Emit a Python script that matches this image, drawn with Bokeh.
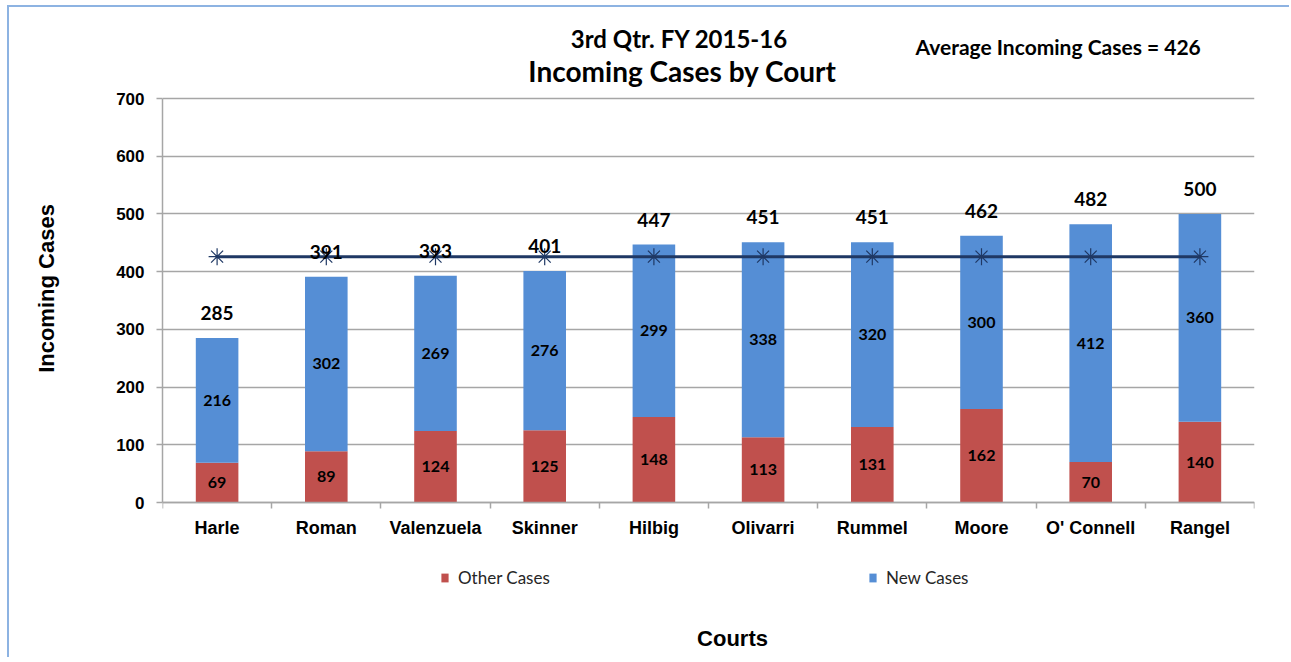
import math
from bokeh.plotting import figure
from bokeh.layouts import row
from bokeh.models import (Range1d, FixedTicker, Legend, LegendItem, LabelSet, Label,
                          ColumnDataSource)
from bokeh.core.properties import value
from bokeh.embed import file_html
from bokeh.resources import INLINE

# ---- data ----
courts = ["Harle", "Roman", "Valenzuela", "Skinner", "Hilbig", "Olivarri",
          "Rummel", "Moore", "O' Connell", "Rangel"]
other_cases = [69, 89, 124, 125, 148, 113, 131, 162, 70, 140]
new_cases = [216, 302, 269, 276, 299, 338, 320, 300, 412, 360]
totals = [285, 391, 393, 401, 447, 451, 451, 462, 482, 500]
average_incoming = 426
y_ticks = [0, 100, 200, 300, 400, 500, 600, 700]

title_line1 = "3rd Qtr. FY 2015-16"
title_line2 = "Incoming Cases by Court"
average_text = "Average Incoming Cases = 426"
x_title = "Courts"
y_title = "Incoming Cases"

RED = "#C0504D"
BLUE = "#558ED5"
NAVY = "#1F3864"
GRID = "#A6A6A6"

# the frame extends above 700 and below 0 so titles/legend sit inside it
Y_MAX = 700
PX_PER_UNIT = 404 / 700
Y_TOP = 490 / PX_PER_UNIT
Y_BOTTOM = -152 / PX_PER_UNIT
y_range = Range1d(Y_BOTTOM, Y_TOP)

xs = [i + 0.5 for i in range(len(courts))]
src = ColumnDataSource(dict(
    x=xs, other=other_cases, new=new_cases, total=totals,
    other_mid=[o / 2 for o in other_cases],
    new_mid=[o + n / 2 for o, n in zip(other_cases, new_cases)],
    other_lbl=[str(v) for v in other_cases],
    new_lbl=[str(v) for v in new_cases],
    total_lbl=[str(v) for v in totals],
    avg=[average_incoming] * len(courts),
))

# ---- narrow strip holding the vertical axis title ----
LABEL_W = 70
pl = figure(width=LABEL_W, height=650, output_backend="svg", toolbar_location=None,
            x_range=Range1d(0, LABEL_W), y_range=y_range,
            x_axis_type=None, y_axis_type=None,
            min_border_left=0, min_border_right=0, min_border_top=5,
            min_border_bottom=3)
pl.grid.visible = False
pl.outline_line_color = None
pl.text(x=[37], y=[(700 + 0) / 2 - 350 + 370.8], text=[y_title], angle=math.pi / 2,
        text_align="center", text_baseline="middle",
        text_font=value("Liberation Sans"), text_font_style="bold",
        text_font_size="22px", text_color="black")

# ---- main chart ----
p = figure(width=1280 - LABEL_W, height=650, output_backend="svg",
           toolbar_location=None,
           x_range=Range1d(0, len(courts)), y_range=y_range,
           min_border_left=153 - LABEL_W, min_border_right=35, min_border_top=5,
           min_border_bottom=3)
p.outline_line_color = None
p.background_fill_color = "white"
p.border_fill_color = "white"

renderers = p.vbar_stack(["other", "new"], x="x", width=0.39, source=src,
                         color=[RED, BLUE], line_color=None)

p.line(x="x", y="avg", source=src, line_color=NAVY, line_width=3)
p.scatter(x="x", y="avg", source=src, marker="asterisk", size=17,
          line_color=NAVY, line_width=1.2)

# grid
p.xgrid.visible = False
p.ygrid.ticker = FixedTicker(ticks=y_ticks)
p.ygrid.grid_line_color = GRID
p.ygrid.grid_line_width = 1.5

# y axis
ya = p.yaxis[0]
ya.ticker = FixedTicker(ticks=y_ticks)
ya.bounds = (0, Y_MAX)
ya.axis_line_color = GRID
ya.axis_line_width = 1.5
ya.major_tick_line_color = GRID
ya.major_tick_line_width = 1.5
ya.major_tick_in = 0
ya.major_tick_out = 6
ya.minor_tick_line_color = None
ya.major_label_standoff = 12
ya.major_label_text_font = "Liberation Sans"
ya.major_label_text_font_style = "bold"
ya.major_label_text_font_size = "17px"
ya.major_label_text_color = "black"

# x axis at y=0: labels at centres, ticks at category boundaries
xa = p.xaxis[0]
xa.fixed_location = 0
xa.ticker = FixedTicker(ticks=xs, minor_ticks=list(range(len(courts) + 1)))
xa.major_label_overrides = {x: c for x, c in zip(xs, courts)}
xa.major_tick_line_color = None
xa.minor_tick_line_color = GRID
xa.minor_tick_line_width = 1.5
xa.minor_tick_in = 0
xa.minor_tick_out = 6
xa.axis_line_color = GRID
xa.axis_line_width = 1.5
xa.major_label_standoff = 9
xa.major_label_text_font = "Liberation Sans"
xa.major_label_text_font_style = "bold"
xa.major_label_text_font_size = "18px"
xa.major_label_text_color = "black"

# value labels
seg_style = dict(text_align="center", text_baseline="middle",
                 text_font=value("Lato"), text_font_style="bold",
                 text_font_size="16px", text_color="black")
p.add_layout(LabelSet(x="x", y="other_mid", text="other_lbl", source=src, **seg_style))
p.add_layout(LabelSet(x="x", y="new_mid", text="new_lbl", source=src, **seg_style))
p.add_layout(LabelSet(x="x", y="total", text="total_lbl", source=src,
                      text_align="center", text_baseline="middle", y_offset=25,
                      text_font=value("Lato"), text_font_style="bold",
                      text_font_size="19px", text_color="black"))

# titles (inside the extended frame)
p.add_layout(Label(x=4.734, y=804, text=title_line1, text_align="center",
                   text_baseline="middle", text_font="Lato",
                   text_font_style="bold", text_font_size="24px",
                   text_color="black"))
p.add_layout(Label(x=4.762, y=747, text=title_line2, text_align="center",
                   text_baseline="middle", text_font="Lato",
                   text_font_style="bold", text_font_size="28px",
                   text_color="black"))
p.add_layout(Label(x=6.896, y=790, text=average_text, text_align="left",
                   text_baseline="middle", text_font="Lato",
                   text_font_style="bold", text_font_size="21px",
                   text_color="black"))
p.add_layout(Label(x=5.22, y=-235, text=x_title, text_align="center",
                   text_baseline="middle", text_font="Liberation Sans",
                   text_font_style="bold", text_font_size="22px",
                   text_color="black"))

legend = Legend(items=[LegendItem(label="Other Cases", renderers=[renderers[0]]),
                       LegendItem(label="New Cases", renderers=[renderers[1]])],
                orientation="horizontal", location=(278, 66),
                glyph_width=9, glyph_height=11, label_standoff=9,
                label_width=410, spacing=0, padding=0, margin=0,
                label_text_font="Lato", label_text_font_size="17px",
                label_text_color="#262626",
                border_line_color=None, background_fill_alpha=0)
p.add_layout(legend, "center")

layout = row(pl, p, spacing=0)
layout.styles = {"margin-left": "7px", "margin-top": "5px",
                 "border-left": "2px solid #8DB3E2",
                 "border-top": "2px solid #8DB3E2"}

open("out.html", "w").write(file_html(layout, INLINE))
